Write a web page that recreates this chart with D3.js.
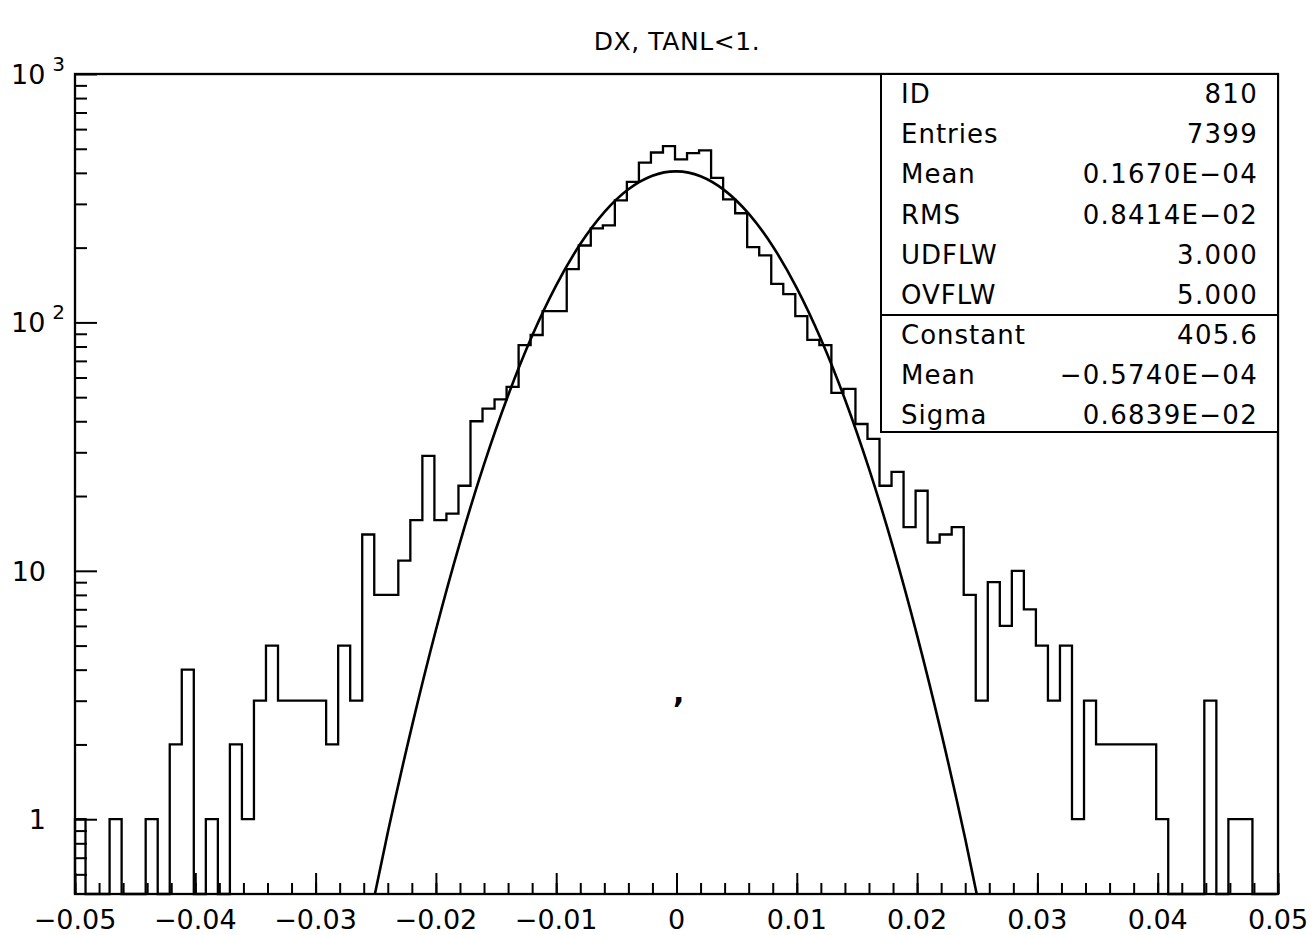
<!DOCTYPE html>
<html><head><meta charset="utf-8">
<script src="https://cdn.jsdelivr.net/npm/d3@7"></script>
<style>
body{margin:0;background:#fff}
svg{display:block}
text{font-family:"DejaVu Sans",sans-serif;fill:#000}
</style>
</head><body>
<svg id="c" width="1313" height="935"></svg>
<script>
// ---------- data ----------
const title = "DX, TANL<1.";
const binLow = -0.05;
const binWidth = 0.001;
const counts = [
  1,0,0,1,0,0,1,0,2,4,
  0,1,0,2,1,3,5,3,3,3,
  3,2,5,3,14,8,8,11,16,29,
  16,17,22,40,45,49,55,81,89,111,
  111,164,204,239,246,310,368,440,483,512,
  453,480,493,382,313,275,201,186,143,130,
  106,85,81,52,54,39,34,22,25,15,
  21,13,14,15,8,3,9,6,10,7,
  5,3,5,1,3,2,2,2,2,2,
  1,0,0,0,3,0,1,1,0,0
];
// fitted gaussian curve, sampled points
const fitX = [-0.026,-0.024,-0.022,-0.020,-0.018,-0.016,-0.014,-0.012,-0.010,-0.008,-0.006,-0.004,-0.002,0,
              0.002,0.004,0.006,0.008,0.010,0.012,0.014,0.016,0.018,0.020,0.022,0.024,0.026];
const fitY = [0.3045,0.8846,2.360,5.776,12.99,26.80,50.76,88.30,141.0,206.7,278.0,343.5,389.6,405.5,
              387.7,340.1,274.0,202.6,137.5,85.76,49.05,25.77,12.43,5.500,2.236,0.834,0.2856];
const xTickValues = [-0.05,-0.04,-0.03,-0.02,-0.01,0,0.01,0.02,0.03,0.04,0.05];
const xTickLabels = ["\u22120.05","\u22120.04","\u22120.03","\u22120.02","\u22120.01","0","0.01","0.02","0.03","0.04","0.05"];
const yMajorValues = [1,10,100,1000];
const yMajorLabels = [["1",""],["10",""],["10","2"],["10","3"]];
const statNames = ["ID","Entries","Mean","RMS","UDFLW","OVFLW"];
const statValues = ["810","7399","0.1670E\u221204","0.8414E\u221202","3.000","5.000"];
const fitNames = ["Constant","Mean","Sigma"];
const fitValues = ["405.6","\u22120.5740E\u221204","0.6839E\u221202"];

// ---------- layout ----------
const L = 75, R = 1278, T = 74, B = 894;
const svg = d3.select("#c");
const x = d3.scaleLinear().domain([-0.05, 0.05]).range([L, R]);
const y = d3.scaleLog().domain([0.5, 1000]).range([B, T]).clamp(true);

svg.append("defs").append("clipPath").attr("id","pc")
  .append("rect").attr("x",L).attr("y",T).attr("width",R-L).attr("height",B-T);

// title
svg.append("text").attr("x", 677).attr("y", 50).attr("text-anchor","middle")
  .attr("font-size", 25).attr("letter-spacing", 0.6).text(title);

// histogram outline
const pts = [[binLow, 0.5]];
counts.forEach((c, i) => {
  const v = c > 0 ? c : 0.5;
  pts.push([binLow + i*binWidth, v]);
  pts.push([binLow + (i+1)*binWidth, v]);
});
pts.push([binLow + counts.length*binWidth, 0.5]);
svg.append("path")
  .attr("transform","translate(-1.5,0)")
  .attr("d", d3.line().x(d => Math.max(L + 1.5, x(d[0]))).y(d => y(d[1]))(pts))
  .attr("fill","none").attr("stroke","#000").attr("stroke-width",2.3)
  .attr("stroke-linejoin","miter");

// fit curve
svg.append("path")
  .attr("clip-path","url(#pc)")
  .attr("d", d3.line().x((d,i) => x(fitX[i])).y(d => y.copy().clamp(false)(d)).curve(d3.curveNatural)(fitY))
  .attr("fill","none").attr("stroke","#000").attr("stroke-width",2.6);

// frame
svg.append("rect").attr("x",L).attr("y",T).attr("width",R-L).attr("height",B-T)
  .attr("fill","none").attr("stroke","#000").attr("stroke-width",2.3);

// x axis ticks (pointing inward)
const xMinor = d3.range(-50, 51, 2).map(k => k/1000);
const gxMinor = svg.append("g").attr("transform",`translate(0,${B})`)
  .call(d3.axisBottom(x).tickValues(xMinor).tickSize(-11).tickFormat(""));
const gxMajor = svg.append("g").attr("transform",`translate(0,${B})`)
  .call(d3.axisBottom(x).tickValues(xTickValues).tickSize(-21).tickFormat(""));
[gxMinor, gxMajor].forEach(g => {
  g.select(".domain").remove();
  g.selectAll("line").attr("stroke","#000").attr("stroke-width",2);
});
svg.append("g").selectAll("text").data(xTickValues).join("text")
  .attr("x", d => x(d)).attr("y", 929).attr("text-anchor","middle")
  .attr("font-size", 27).text((d,i) => xTickLabels[i]);

// y axis ticks
const yMinor = [];
[0.1,1,10,100].forEach(dec => { for (let k=2;k<=9;k++){ const v=k*dec; if (v>0.5 && v<1000) yMinor.push(v);} });
const gyMinor = svg.append("g").attr("transform",`translate(${L},0)`)
  .call(d3.axisLeft(y).tickValues(yMinor).tickSize(-12).tickFormat(""));
const gyMajor = svg.append("g").attr("transform",`translate(${L},0)`)
  .call(d3.axisLeft(y).tickValues(yMajorValues).tickSize(-22).tickFormat(""));
[gyMinor, gyMajor].forEach(g => {
  g.select(".domain").remove();
  g.selectAll("line").attr("stroke","#000").attr("stroke-width",2);
});
const yl = svg.append("g").selectAll("text").data(yMajorValues).join("text")
  .attr("font-size", 27)
  .attr("x", (d,i) => yMajorLabels[i][1] ? 11 : 46)
  .attr("text-anchor", (d,i) => yMajorLabels[i][1] ? "start" : "end")
  .attr("y", d => y(d) + 10);
yl.append("tspan").text((d,i) => yMajorLabels[i][0]);
yl.filter((d,i) => yMajorLabels[i][1]).append("tspan")
  .attr("font-size", 20).attr("dx", 7).attr("dy", -13).text(d => yMajorLabels[yMajorValues.indexOf(d)][1]);

// stats box
const bx = 881, rowH = 40.2, divY = 315, boxB = 432;
svg.append("rect").attr("x",bx).attr("y",T).attr("width",R-bx).attr("height",boxB-T)
  .attr("fill","#fff").attr("stroke","#000").attr("stroke-width",2);
svg.append("line").attr("x1",bx).attr("x2",R).attr("y1",divY).attr("y2",divY)
  .attr("stroke","#000").attr("stroke-width",2);
const rowsA = statNames.map((n,i) => ({n, v: statValues[i], yy: 103 + i*rowH}));
const rowsB = fitNames.map((n,i) => ({n, v: fitValues[i], yy: 344 + i*rowH}));
const rows = rowsA.concat(rowsB);
const sg = svg.append("g");
sg.selectAll("text.n").data(rows).join("text").attr("class","n")
  .attr("x", 901).attr("y", d => d.yy).attr("font-size", 26).attr("letter-spacing", 1.0).text(d => d.n);
sg.selectAll("text.v").data(rows).join("text").attr("class","v")
  .attr("x", 1258).attr("y", d => d.yy).attr("text-anchor","end")
  .attr("font-size", 26).attr("letter-spacing", 1.3).text(d => d.v);

// small stray mark in the original
svg.append("text").attr("x", 673).attr("y", 703).attr("font-size", 30).attr("font-weight","bold").text(",");
</script>
</body></html>
